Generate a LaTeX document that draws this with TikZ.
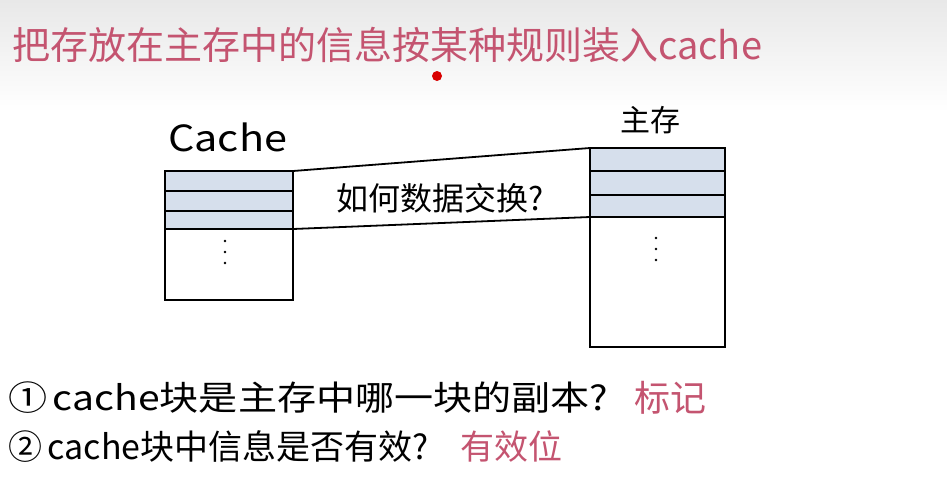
\documentclass[tikz,border=0pt]{standalone}
\usepackage{fontspec}
\newfontfamily\cjk{Noto Sans CJK SC}
\newfontfamily\cjkwide[FakeStretch=1.15]{Noto Sans CJK SC}
\definecolor{pinkred}{RGB}{196,84,112}
\definecolor{rowblue}{RGB}{214,223,236}
\tikzset{
  box/.style={draw=black,line width=1.8pt},
  sep/.style={draw=black,line width=1.8pt},
  link/.style={draw=black,line width=1.8pt},
  dotmark/.style={fill=black},
  txt/.style={font=\cjk\fontsize{32}{36}\selectfont,text=black,inner sep=0pt},
  pinktxt/.style={font=\cjk\fontsize{32}{36}\selectfont,text=pinkred,inner sep=0pt},
}
\begin{document}
\begin{tikzpicture}[x=1pt,y=-1pt]
\useasboundingbox (0,0) rectangle (947,483);
\fill[white] (0,0) rectangle (947,483);
\shade[top color=black!9,bottom color=white] (0,0) rectangle (947,112);
% title
\node[pinktxt,anchor=west,font=\cjk\fontsize{38}{42}\selectfont] (title) at (12,45) {把存放在主存中的信息按某种规则装入cache};
\fill[red!85!black] (437,76) circle (5);
% cache
\fill[rowblue] (165,171) rectangle (293,229);
\coordinate (ctl) at (165,171);
\coordinate (ctr) at (293,171);
\coordinate (cbr) at (293,229);
\draw[box] (165,171) rectangle (293,300);
\draw[sep] (165,191) -- (293,191);
\draw[sep] (165,211) -- (293,211);
\draw[sep] (165,229) -- (293,229);
\foreach \yy in {241,252,263} \fill[dotmark] (225,\yy) circle (1.4);
\node[txt,anchor=south west,font=\cjkwide\fontsize{36}{40}\selectfont] (clabel) at (168,152) {Cache};
% main memory
\fill[rowblue] (590,148) rectangle (725,217);
\coordinate (mtl) at (590,148);
\coordinate (mbl) at (590,217);
\draw[box] (590,148) rectangle (725,347);
\draw[sep] (590,171) -- (725,171);
\draw[sep] (590,195) -- (725,195);
\draw[sep] (590,217) -- (725,217);
\foreach \yy in {238,249,260} \fill[dotmark] (656,\yy) circle (1.4);
\node[txt,anchor=center,font=\cjk\fontsize{30}{34}\selectfont] (mlabel) at (650,120) {主存};
% links
\draw[link] (ctr) -- (mtl);
\draw[link] (cbr) -- (mbl);
\node[txt,font=\cjk\fontsize{32}{36}\selectfont] (q) at (440,198) {如何数据交换?};
% bottom
\node[txt,anchor=west,font=\cjkwide\fontsize{34}{38}\selectfont] (l1) at (8,398) {①\,cache块是主存中哪一块的副本?};
\node[pinktxt,anchor=west,font=\cjk\fontsize{36}{40}\selectfont] (a1) at (634,398) {标记};
\node[txt,anchor=west,font=\cjk\fontsize{34}{38}\selectfont] (l2) at (8,447) {②\,cache块中信息是否有效?};
\node[pinktxt,anchor=west,font=\cjk\fontsize{34}{38}\selectfont] (a2) at (460,447) {有效位};
\end{tikzpicture}
\end{document}
